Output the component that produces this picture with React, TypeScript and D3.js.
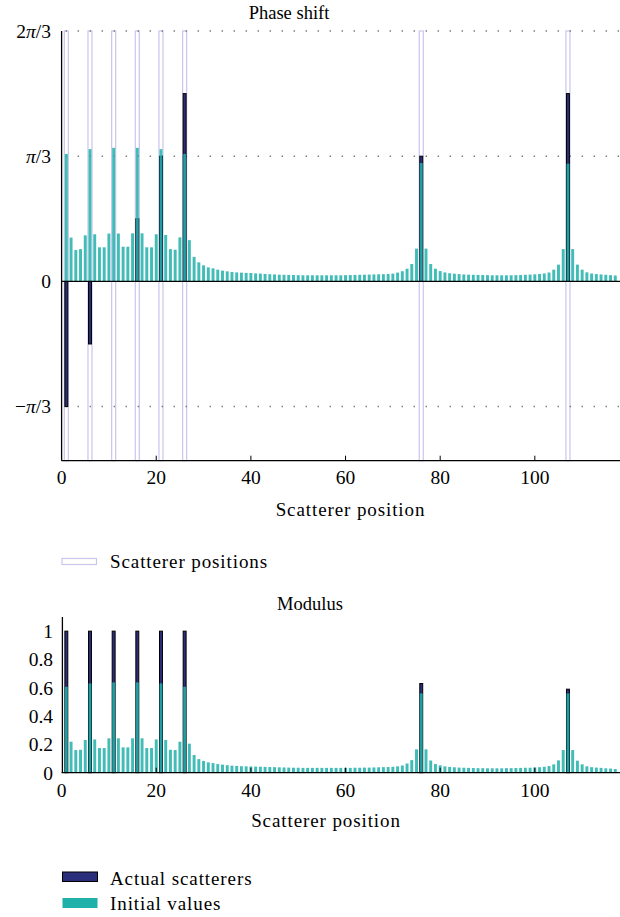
import React from 'react';
import * as d3 from 'd3';

const PI = Math.PI;

// initial estimate (teal), one value per scatterer position 1..117
const phaseInitial = [
  1.066, 0.366, 0.262, 0.27, 0.385, 1.106, 0.394, 0.285, 0.285, 0.4,
  1.117, 0.4, 0.29, 0.29, 0.402, 1.117, 0.402, 0.285, 0.285, 0.394,
  1.106, 0.388, 0.27, 0.265, 0.368, 1.066, 0.345, 0.205, 0.159, 0.134,
  0.117, 0.109, 0.098, 0.09, 0.084, 0.078, 0.075, 0.073, 0.071, 0.07,
  0.067, 0.065, 0.062, 0.06, 0.058, 0.056, 0.055, 0.054, 0.053, 0.052,
  0.051, 0.051, 0.051, 0.051, 0.051, 0.051, 0.051, 0.051, 0.051, 0.052,
  0.053, 0.054, 0.055, 0.056, 0.057, 0.058, 0.059, 0.06, 0.062, 0.065,
  0.073, 0.085, 0.106, 0.145, 0.274, 0.99, 0.274, 0.145, 0.106, 0.086,
  0.075, 0.068, 0.064, 0.061, 0.058, 0.056, 0.055, 0.054, 0.053, 0.052,
  0.051, 0.051, 0.051, 0.051, 0.051, 0.052, 0.053, 0.055, 0.057, 0.059,
  0.062, 0.066, 0.074, 0.098, 0.14, 0.27, 0.985, 0.27, 0.14, 0.098,
  0.076, 0.066, 0.061, 0.058, 0.055, 0.052, 0.049,
];

const modulusInitial = [
  0.607, 0.219, 0.16, 0.162, 0.231, 0.631, 0.235, 0.174, 0.174, 0.243,
  0.638, 0.243, 0.179, 0.179, 0.243, 0.638, 0.243, 0.174, 0.174, 0.235,
  0.631, 0.231, 0.162, 0.16, 0.219, 0.607, 0.205, 0.125, 0.096, 0.083,
  0.073, 0.068, 0.061, 0.057, 0.053, 0.05, 0.048, 0.046, 0.045, 0.044,
  0.043, 0.042, 0.041, 0.04, 0.039, 0.038, 0.037, 0.036, 0.035, 0.035,
  0.034, 0.034, 0.034, 0.034, 0.034, 0.034, 0.034, 0.034, 0.034, 0.034,
  0.034, 0.035, 0.035, 0.036, 0.036, 0.037, 0.038, 0.039, 0.04, 0.042,
  0.045, 0.051, 0.065, 0.089, 0.165, 0.56, 0.165, 0.086, 0.061, 0.052,
  0.045, 0.041, 0.038, 0.036, 0.035, 0.034, 0.033, 0.032, 0.032, 0.031,
  0.031, 0.031, 0.031, 0.032, 0.032, 0.033, 0.034, 0.035, 0.035, 0.037,
  0.039, 0.042, 0.047, 0.059, 0.087, 0.16, 0.56, 0.16, 0.085, 0.059,
  0.045, 0.039, 0.036, 0.034, 0.031, 0.029, 0.026,
];

// actual scatterers (navy)
const scattererPositions = [1, 6, 11, 16, 21, 26, 76, 107];
const actualPhase = [-PI / 3, -PI / 6, 0, PI / 6, PI / 3, PI / 2, PI / 3, PI / 2];
const actualModulus = [1, 1, 1, 1, 1, 1, 0.63, 0.59];

const xTicks = [0, 20, 40, 60, 80, 100];
const phaseTicks = [(2 * PI) / 3, PI / 3, 0, -PI / 3];
const phaseTickLabels = ['2π/3', 'π/3', '0', '−π/3'];
const phaseGrid = [(2 * PI) / 3, PI / 3, -PI / 3];
const modulusTicks = [0, 0.2, 0.4, 0.6, 0.8, 1];

const TEAL = '#20b0aa';
const NAVY = '#2b2e7a';
const LAVENDER = '#c9c6ea';
const FONT = '"Liberation Serif", "DejaVu Serif", serif';

const left = 61.6;
const right = 620;
const barW = 0.62;
const boxW = 0.85;
const tickFont = 19.5;

const x = d3.scaleLinear().domain([0, 118]).range([left, right]);
const yPhase = d3.scaleLinear().domain([-1.5, (2 * PI) / 3]).range([460.7, 31]);
const yMod = d3.scaleLinear().domain([0, 1.1]).range([772.7, 617]);

const positions = phaseInitial.map((_, i) => i + 1);

function piLabel(s: string) {
  const parts = s.split('π');
  if (parts.length === 1) return s;
  return (
    <>
      {parts[0]}
      <tspan fontStyle="italic">π</tspan>
      {parts[1]}
    </>
  );
}

function Bars({ xs, vals, y, fill, stroke, opacity }: any) {
  const y0 = y(0);
  return (
    <g>
      {xs.map((p: number, i: number) => {
        const v = vals[i];
        if (v === 0) return null;
        const yv = y(v);
        return (
          <rect
            key={i}
            x={x(p - barW / 2)}
            y={Math.min(yv, y0)}
            width={x(barW) - x(0)}
            height={Math.abs(yv - y0)}
            fill={fill}
            stroke={stroke || 'none'}
            strokeWidth={stroke ? 1 : 0}
            opacity={opacity}
          />
        );
      })}
    </g>
  );
}

function XAxis({ y0, labelY }: { y0: number; labelY: number }) {
  return (
    <g>
      <line x1={left} x2={right} y1={y0} y2={y0} stroke="#000" strokeWidth={1.3} />
      {xTicks.map((t) => (
        <g key={t}>
          {t > 0 && <line x1={x(t)} x2={x(t)} y1={y0} y2={y0 - 5} stroke="#000" strokeWidth={1} />}
          <text x={x(t)} y={labelY} textAnchor="middle" fontSize={tickFont}>
            {t}
          </text>
        </g>
      ))}
    </g>
  );
}

export default function App() {
  const [pTop, pBot] = yPhase.range().slice().reverse();
  const labelStyle = { fontSize: 19, letterSpacing: 0.9 };
  return (
    <svg
      width={620}
      height={917}
      style={{ position: 'absolute', left: 0, top: 0, background: '#fff' }}
      fontFamily={FONT}
    >
      {/* ---------- Phase shift ---------- */}
      <text x={289} y={18.5} textAnchor="middle" fontSize={18.5}>
        Phase shift
      </text>
      {scattererPositions.map((p) => (
        <rect
          key={p}
          x={x(p - boxW / 2)}
          y={pTop}
          width={x(boxW) - x(0)}
          height={pBot - pTop}
          fill="none"
          stroke={LAVENDER}
          strokeWidth={1.2}
        />
      ))}
      {phaseGrid.map((g) => (
        <line
          key={g}
          x1={left + 4}
          x2={right}
          y1={yPhase(g)}
          y2={yPhase(g)}
          stroke="#777"
          strokeWidth={1.4}
          strokeDasharray="1.4 10.6"
        />
      ))}
      <Bars xs={scattererPositions} vals={actualPhase} y={yPhase} fill={NAVY} stroke="#000" />
      <Bars xs={positions} vals={phaseInitial} y={yPhase} fill={TEAL} opacity={0.85} />
      <line x1={left} x2={right} y1={yPhase(0)} y2={yPhase(0)} stroke="#000" strokeWidth={1.3} />
      <line x1={left} x2={left} y1={pTop} y2={pBot} stroke="#000" strokeWidth={1.3} />
      {phaseTicks.map((t, i) => (
        <text key={i} x={51} y={yPhase(t)} dy="0.35em" textAnchor="end" fontSize={tickFont}>
          {piLabel(phaseTickLabels[i])}
        </text>
      ))}
      <XAxis y0={pBot} labelY={483.5} />
      <text x={350.5} y={515.5} textAnchor="middle" style={labelStyle}>
        Scatterer position
      </text>

      {/* legend: scatterer positions */}
      <rect x={62} y={558.5} width={34.5} height={6} fill="#fff" stroke={LAVENDER} strokeWidth={1.2} />
      <text x={110} y={567.7} style={labelStyle}>
        Scatterer positions
      </text>

      {/* ---------- Modulus ---------- */}
      <text x={310} y={610} textAnchor="middle" fontSize={18.5}>
        Modulus
      </text>
      <Bars xs={scattererPositions} vals={actualModulus} y={yMod} fill={NAVY} stroke="#000" />
      <Bars xs={positions} vals={modulusInitial} y={yMod} fill={TEAL} opacity={0.85} />
      <line x1={left + 0.8} x2={left + 0.8} y1={yMod.range()[1]} y2={yMod(0)} stroke="#000" strokeWidth={1.3} />
      {modulusTicks.map((t) => (
        <text key={t} x={53} y={yMod(t)} dy="0.35em" textAnchor="end" fontSize={tickFont}>
          {t}
        </text>
      ))}
      <XAxis y0={yMod(0)} labelY={797} />
      <text x={326} y={827} textAnchor="middle" style={labelStyle}>
        Scatterer position
      </text>

      {/* legend: bars */}
      <rect x={62.5} y={872} width={35} height={9.5} fill={NAVY} stroke="#000" strokeWidth={1} />
      <text x={110} y={885} style={labelStyle}>
        Actual scatterers
      </text>
      <rect x={62.5} y={898} width={35} height={10} fill={TEAL} />
      <text x={110} y={910} style={labelStyle}>
        Initial values
      </text>
    </svg>
  );
}
